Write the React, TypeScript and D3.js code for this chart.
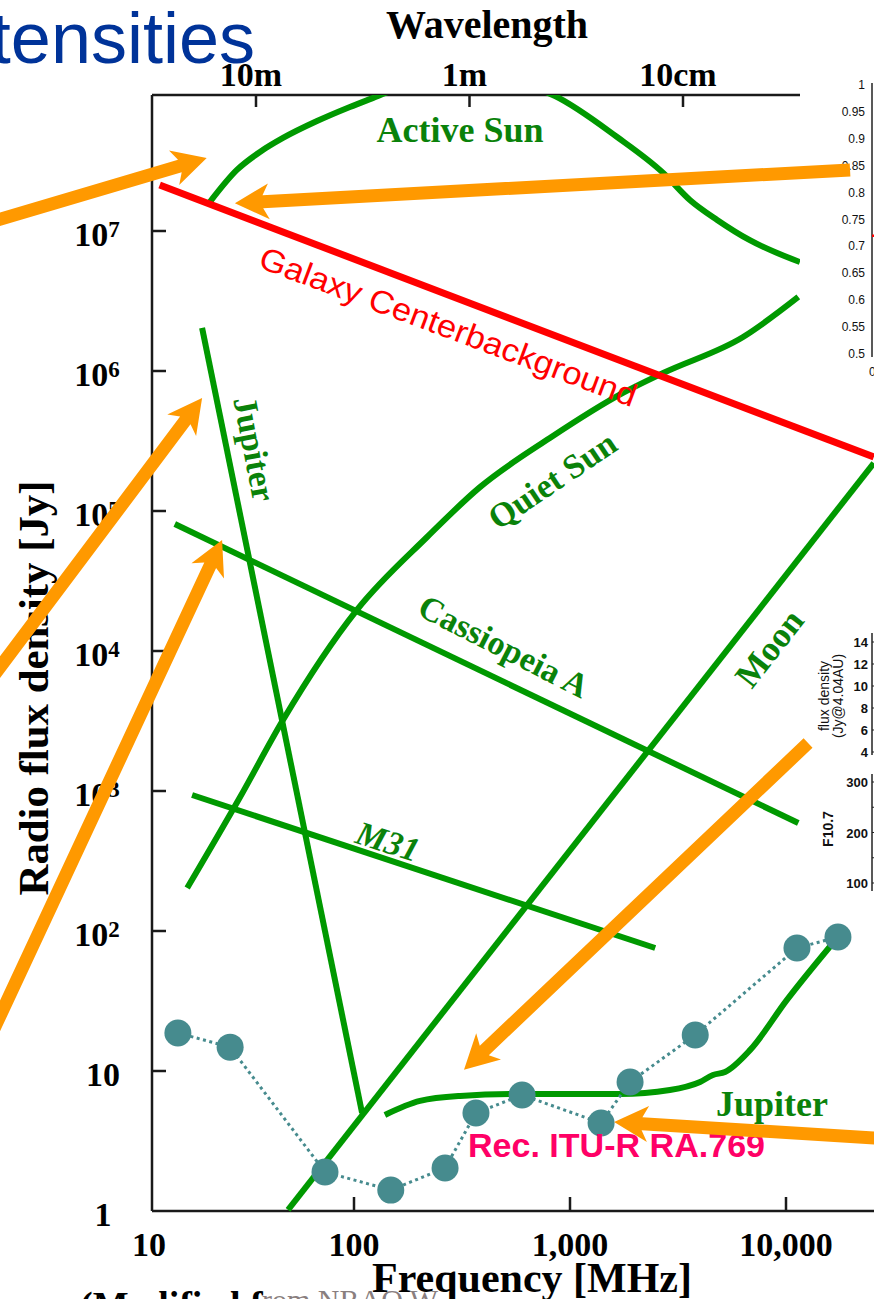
import React from "react";
import * as d3 from "d3";

const W = 874;
const H = 1299;

// ---- series data: frequency [MHz] and flux density [Jy] ----
const galaxyFreq = [12.6, 25500];
const galaxyFlux = [2.13e7, 2.43e5];

const activeSunFreq = [21.5, 28.7, 36.7, 46.9, 67.4, 95.7, 122, 202, 327, 527, 853, 1652, 2700, 3600, 4800, 6800, 11600];
const activeSunFlux = [1.61e7, 2.73e7, 3.67e7, 4.62e7, 6.1e7, 7.69e7, 8.9e7, 1.2e8, 1.41e8, 1.2e8, 9.2e7, 4.69e7, 2.6e7, 1.66e7, 1.2e7, 8.6e6, 6.0e6];

const quietSunFreq = [16.9, 29.7, 46.9, 103, 218, 383, 807, 1758, 2700, 6330, 11400];
const quietSunFlux = [203, 906, 3214, 1.96e4, 6.52e4, 1.48e5, 3.32e5, 6.97e5, 9.68e5, 1.75e6, 3.38e6];

const jupiterBurstFreq = [19.8, 109];
const jupiterBurstFlux = [2.03e6, 5.01];

const moonFreq = [49.5, 25500];
const moonFlux = [1.02, 2.2e5];

const casAFreq = [14.8, 11400];
const casAFlux = [8.07e4, 591];

const m31Freq = [17.8, 2480];
const m31Flux = [936, 75.6];

const jupiterFreq = [139, 202, 310, 587, 1702, 2900, 4000, 4590, 5220, 6810, 10100, 17400];
const jupiterFlux = [4.85, 6.11, 6.63, 6.85, 6.85, 7.32, 8.35, 9.36, 9.84, 14.1, 32.2, 90.6];

const ituFreq = [15.3, 26.7, 73.4, 148, 264, 367, 600, 1393, 1897, 3800, 11240, 17400];
const ituFlux = [18.7, 14.8, 1.9, 1.41, 2.03, 5.01, 6.74, 4.25, 8.35, 18.1, 75.6, 90.6];

// annotation arrows (tail -> tip), in the same data space
const arrowTailFreq = [1, 19800, 1, 1, 12650, 40000];
const arrowTailFlux = [8.28e6, 2.73e7, 1390, 1.58, 2200, 3.19];
const arrowTipFreq = [20.8, 28.1, 19.8, 24.5, 323, 1600];
const arrowTipFlux = [3.32e7, 1.58e7, 6.41e5, 6.21e4, 10.2, 4.32];

// ---- axes ----
const xTickValues = [10, 100, 1000, 10000];
const xTickLabels = ["10", "100", "1,000", "10,000"];
const yTickExps = [0, 1, 2, 3, 4, 5, 6, 7];
const wavelengthTicks = [10, 1, 0.1];
const wavelengthLabels = ["10m", "1m", "10cm"];

// partial insets on the right
const insetTopTicks = [0.5, 0.55, 0.6, 0.65, 0.7, 0.75, 0.8, 0.85, 0.9, 0.95, 1];
const insetTopLabels = ["0.5", "0.55", "0.6", "0.65", "0.7", "0.75", "0.8", "0.85", "0.9", "0.95", "1"];
const insetTopRedValue = 0.72;
const insetFluxTicks = [4, 6, 8, 10, 12, 14];
const insetF107Ticks = [100, 200, 300];
const insetF107Minor = [150, 250];

const SERIF = "'Liberation Serif', 'Times New Roman', serif";
const SANS = "'Liberation Sans', Arial, sans-serif";
const GREEN = "#009900";
const GREEN_TEXT = "#0a820a";
const ORANGE = "#FF9900";
const TEAL = "#468B8E";

function arrowPath(p0: [number, number], p1: [number, number]) {
  const sw = 13, hl = 34, hw = 18, notch = 6;
  const dx = p1[0] - p0[0], dy = p1[1] - p0[1];
  const len = Math.hypot(dx, dy);
  const ux = dx / len, uy = dy / len;
  const vx = -uy, vy = ux;
  const bx = p1[0] - ux * hl, by = p1[1] - uy * hl;
  const nx = bx + ux * notch, ny = by + uy * notch;
  const s = sw / 2;
  const pts = [
    [p0[0] + vx * s, p0[1] + vy * s],
    [nx + vx * s, ny + vy * s],
    [bx + vx * hw, by + vy * hw],
    [p1[0], p1[1]],
    [bx - vx * hw, by - vy * hw],
    [nx - vx * s, ny - vy * s],
    [p0[0] - vx * s, p0[1] - vy * s],
  ];
  return "M" + pts.map((p) => p[0].toFixed(1) + "," + p[1].toFixed(1)).join("L") + "Z";
}

export default function App() {
  const x = d3.scaleLog().domain([10, 10000]).range([138, 786]);
  const y = d3.scaleLog().domain([1, 1e7]).range([1211, 231]);
  const xw = d3.scaleLog().domain([10, 0.1]).range([256, 683]);
  const frame = { left: 152, top: 95, right: 800, bottom: 1211, axisEnd: 874 };

  const pts = (fs: number[], ss: number[]) => fs.map((f, i) => [x(f), y(ss[i])] as [number, number]);
  const straight = d3.line();
  const smooth = d3.line().curve(d3.curveMonotoneX);

  const yTop = d3.scaleLinear().domain([0.5, 1]).range([354, 85]);
  const yFluxInset = d3.scaleLinear().domain([4, 14]).range([752, 642]);
  const yF107 = d3.scaleLinear().domain([100, 300]).range([883, 782]);
  const insetAxisX = 872;

  const itu = pts(ituFreq, ituFlux);

  return (
    <svg width={W} height={H} style={{ position: "absolute", left: 0, top: 0, display: "block", background: "#fff" }}>
      <defs>
        <clipPath id="plotClip">
          <rect x={frame.left} y={frame.top} width={frame.right - frame.left} height={frame.bottom - frame.top} />
        </clipPath>
      </defs>
      <rect x={0} y={0} width={W} height={H} fill="#fff" />

      {/* slide title fragment */}
      <text x={255} y={63} textAnchor="end" fontFamily={SANS} fontSize={72} fill="#003399">Intensities</text>

      {/* frame */}
      <g stroke="#1a1a1a" strokeWidth={2.5} fill="none">
        <line x1={frame.left} y1={frame.top} x2={frame.left} y2={frame.bottom} />
        <line x1={frame.left} y1={frame.top} x2={frame.right} y2={frame.top} />
        <line x1={frame.left} y1={frame.bottom} x2={frame.axisEnd} y2={frame.bottom} />
        {yTickExps.slice(1).map((e) => (
          <line key={e} x1={frame.left} x2={frame.left + 14} y1={y(Math.pow(10, e))} y2={y(Math.pow(10, e))} />
        ))}
        {xTickValues.slice(1).map((v) => (
          <line key={v} x1={x(v)} x2={x(v)} y1={frame.bottom} y2={frame.bottom - 14} />
        ))}
        {wavelengthTicks.map((v) => (
          <line key={v} x1={xw(v)} x2={xw(v)} y1={frame.top} y2={frame.top + 12} />
        ))}
      </g>

      {/* axis labels */}
      <g fontFamily={SERIF} fontWeight="bold" fill="#000">
        <text x={487} y={38} textAnchor="middle" fontSize={40}>Wavelength</text>
        {wavelengthTicks.map((v, i) => (
          <text key={v} x={xw(v) - 5} y={86} textAnchor="middle" fontSize={34}>{wavelengthLabels[i]}</text>
        ))}
        {xTickValues.map((v, i) => (
          <text key={v} x={Math.max(x(v), frame.left - 3)} y={1256} textAnchor="middle" fontSize={34}>{xTickLabels[i]}</text>
        ))}
        {yTickExps.map((e) => (
          <text key={e} x={e >= 2 ? 97 : 103} y={y(Math.pow(10, e)) + 15} textAnchor="middle" fontSize={34}>
            {e === 0 ? "1" : "10"}
            {e >= 2 ? <tspan fontSize={23} dy={-9}>{String(e)}</tspan> : null}
          </text>
        ))}
        <text x={532} y={1292} textAnchor="middle" fontSize={42} textLength={320} lengthAdjust="spacingAndGlyphs">Frequency [MHz]</text>
        <text transform="translate(48,688) rotate(-90)" textAnchor="middle" fontSize={42} textLength={415} lengthAdjust="spacingAndGlyphs">Radio flux density [Jy]</text>
        <text x={80} y={1318} fontSize={38}>(Modified f</text>
      </g>
      <text x={262} y={1310} fontFamily={SERIF} fontSize={30} fill="#8a7f7f">rom NRAO W</text>

      {/* green source curves */}
      <g fill="none" stroke={GREEN} strokeWidth={6} strokeLinecap="butt">
        <path clipPath="url(#plotClip)" d={smooth(pts(activeSunFreq, activeSunFlux)) || ""} />
        <path d={smooth(pts(quietSunFreq, quietSunFlux)) || ""} />
        <path d={straight(pts(jupiterBurstFreq, jupiterBurstFlux)) || ""} />
        <path d={straight(pts(moonFreq, moonFlux)) || ""} />
        <path d={straight(pts(casAFreq, casAFlux)) || ""} />
        <path d={straight(pts(m31Freq, m31Flux)) || ""} />
        <path d={smooth(pts(jupiterFreq, jupiterFlux)) || ""} />
      </g>

      {/* galaxy background */}
      <path d={straight(pts(galaxyFreq, galaxyFlux)) || ""} fill="none" stroke="#FF0000" strokeWidth={7} />

      {/* green labels */}
      <g fontFamily={SERIF} fontWeight="bold" fill={GREEN_TEXT}>
        <text x={460} y={142} textAnchor="middle" fontSize={36}>Active Sun</text>
        <text transform="translate(255,449) rotate(79)" textAnchor="middle" dy="0.35em" fontSize={34}>Jupiter</text>
        <text transform="translate(552,480) rotate(-34)" textAnchor="middle" dy="0.35em" fontSize={34}>Quiet Sun</text>
        <text transform="translate(504,646) rotate(27)" textAnchor="middle" dy="0.35em" fontSize={34}>Cassiopeia A</text>
        <text transform="translate(388,841) rotate(18)" textAnchor="middle" dy="0.35em" fontSize={34} fontStyle="italic">M31</text>
        <text transform="translate(769,648) rotate(-52)" textAnchor="middle" dy="0.35em" fontSize={35}>Moon</text>
        <text x={716} y={1116} fontSize={36}>Jupiter</text>
      </g>

      {/* red label */}
      <text transform="translate(257,267) rotate(20.5)" fontFamily={SANS} fontSize={32} fill="#FF0000" textLength={400} lengthAdjust="spacingAndGlyphs">Galaxy Centerbackground</text>

      {/* ITU-R RA.769 thresholds */}
      <path d={straight(itu) || ""} fill="none" stroke={TEAL} strokeWidth={3} strokeDasharray="3 3.5" />
      {itu.map((p, i) => (
        <circle key={i} cx={p[0]} cy={p[1]} r={13.5} fill={TEAL} />
      ))}
      <text x={468} y={1157} fontFamily={SANS} fontWeight="bold" fontSize={34} fill="#FF0066" textLength={297} lengthAdjust="spacingAndGlyphs">Rec. ITU-R RA.769</text>

      {/* partial insets on the right */}
      <g fontFamily={SANS} fill="#111">
        <line x1={insetAxisX} x2={insetAxisX} y1={yTop(1) - 2} y2={yTop(0.5) + 3} stroke="#222" strokeWidth={1.5} />
        {insetTopTicks.map((v, i) => (
          <text key={v} x={865} y={yTop(v) + 4} textAnchor="end" fontSize={12}>{insetTopLabels[i]}</text>
        ))}
        <line x1={insetAxisX} x2={W} y1={yTop(insetTopRedValue)} y2={yTop(insetTopRedValue)} stroke="#FF0000" strokeWidth={2.5} />
        <text x={869} y={376} fontSize={12}>0</text>

        <line x1={insetAxisX} x2={insetAxisX} y1={633} y2={755} stroke="#222" strokeWidth={1.5} />
        {insetFluxTicks.map((v) => (
          <g key={v}>
            <text x={868} y={yFluxInset(v) + 5} textAnchor="end" fontSize={13} fontWeight="bold">{v}</text>
            <line x1={insetAxisX} x2={insetAxisX + 3} y1={yFluxInset(v)} y2={yFluxInset(v)} stroke="#222" />
          </g>
        ))}
        <text transform="translate(829,696) rotate(-90)" textAnchor="middle" fontSize={14}>flux density</text>
        <text transform="translate(843,696) rotate(-90)" textAnchor="middle" fontSize={14}>(Jy@4.04AU)</text>

        <line x1={insetAxisX} x2={insetAxisX} y1={774} y2={891} stroke="#222" strokeWidth={1.5} />
        {insetF107Ticks.map((v) => (
          <g key={v}>
            <text x={868} y={yF107(v) + 5} textAnchor="end" fontSize={13} fontWeight="bold">{v}</text>
            <line x1={insetAxisX} x2={insetAxisX + 3} y1={yF107(v)} y2={yF107(v)} stroke="#222" />
          </g>
        ))}
        {insetF107Minor.map((v) => (
          <line key={v} x1={insetAxisX} x2={insetAxisX + 3} y1={yF107(v)} y2={yF107(v)} stroke="#222" />
        ))}
        <text transform="translate(833,829) rotate(-90)" textAnchor="middle" fontSize={14} fontWeight="bold">F10.7</text>
      </g>

      {/* orange annotation arrows */}
      <g fill={ORANGE}>
        {arrowTailFreq.map((f, i) => (
          <path key={i} d={arrowPath([x(f), y(arrowTailFlux[i])], [x(arrowTipFreq[i]), y(arrowTipFlux[i])])} />
        ))}
      </g>
    </svg>
  );
}
